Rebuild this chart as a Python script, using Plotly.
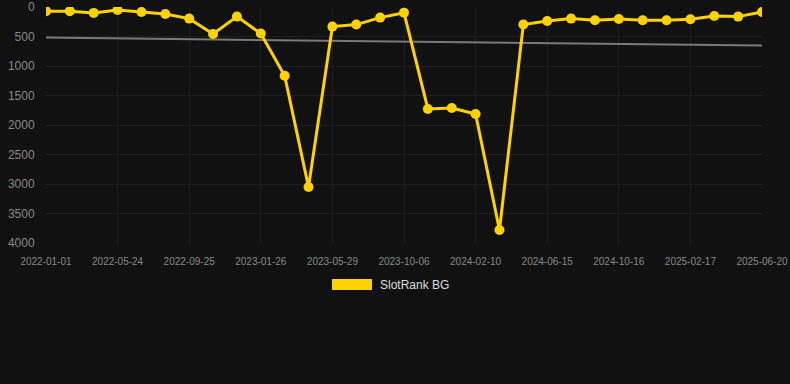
import plotly.graph_objects as go

dates = ["2022-01-01", "2022-02-18", "2022-04-06", "2022-05-24", "2022-07-04", "2022-08-14",
         "2022-09-25", "2022-11-05", "2022-12-16", "2023-01-26", "2023-03-08", "2023-04-18",
         "2023-05-29", "2023-07-11", "2023-08-23", "2023-10-06", "2023-11-17", "2023-12-29",
         "2024-02-10", "2024-03-22", "2024-05-03", "2024-06-15", "2024-07-26", "2024-09-05",
         "2024-10-16", "2024-11-26", "2025-01-06", "2025-02-17", "2025-03-30", "2025-05-10",
         "2025-06-20"]
rank = [70, 70, 100, 50, 85, 118, 197, 456, 163, 450, 1165, 3052, 332, 298, 180, 96,
        1728, 1712, 1813, 3779, 298, 236, 197, 225, 203, 225, 225, 208, 152, 163, 85]
trend_x = [dates[0], dates[-1]]
trend_y = [518, 654]
y_ticks = [0, 500, 1000, 1500, 2000, 2500, 3000, 3500, 4000]
x_ticks = dates[::3]
series_name = "SlotRank BG"

YELLOW = "#FFD200"
FONT = "Arial, Liberation Sans, sans-serif"

fig = go.Figure()
fig.add_trace(go.Scatter(x=trend_x, y=trend_y, mode="lines",
                         line=dict(color="rgba(140,140,140,0.85)", width=2),
                         showlegend=False, hoverinfo="skip"))
fig.add_trace(go.Scatter(x=dates, y=rank, mode="lines+markers", name=series_name,
                         line=dict(color=YELLOW, width=3),
                         marker=dict(color=YELLOW, size=10),
                         showlegend=False))

fig.update_layout(
    width=790, height=384,
    paper_bgcolor="#111111", plot_bgcolor="#111111",
    margin=dict(l=46, r=28, t=7, b=141),
    font=dict(family=FONT, color="#888888"),
    xaxis=dict(type="category", categoryorder="array", categoryarray=dates,
               range=[0, len(dates) - 1], tickmode="array", tickvals=x_ticks,
               ticktext=x_ticks, tickfont=dict(size=10, color="#888888"),
               showgrid=True, gridcolor="#1f1f1f", gridwidth=1, automargin=False,
               zeroline=False, showline=False, ticks="outside", ticklen=9,
               tickcolor="rgba(0,0,0,0)"),
    yaxis=dict(range=[4000, 0], autorange=False, tickmode="array", tickvals=y_ticks,
               tickfont=dict(size=12, color="#888888"), automargin=False,
               showgrid=True, gridcolor="#1f1f1f", gridwidth=1,
               zeroline=False, showline=False, ticks="outside", ticklen=8,
               tickcolor="rgba(0,0,0,0)"),
    showlegend=False,
)

# legend drawn manually
fig.add_shape(type="rect", xref="paper", yref="paper",
              x0=(332 - 46) / 716, x1=(372 - 46) / 716,
              y0=(243 - 290) / 236, y1=(243 - 279) / 236,
              fillcolor=YELLOW, line=dict(width=0))
fig.add_annotation(xref="paper", yref="paper", x=(378 - 46) / 716, y=(243 - 285) / 236,
                   xanchor="left", yanchor="middle", text=series_name, showarrow=False,
                   font=dict(size=12, color="#dddddd", family=FONT))

fig.write_html("out.html", config={"displayModeBar": False},
               post_script="document.body.style.margin='0';document.body.style.background='#111111';")
